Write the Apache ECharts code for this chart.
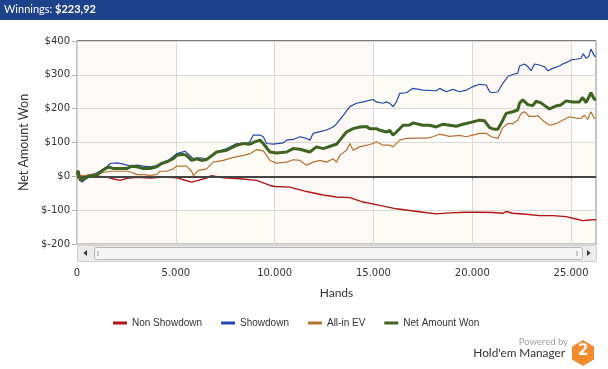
<!DOCTYPE html>
<html>
<head>
<meta charset="utf-8">
<script src="https://cdn.jsdelivr.net/npm/echarts@6/dist/echarts.min.js"></script>
<style>
html,body{margin:0;padding:0;background:#fff;}
#chart{width:608px;height:369px;}
</style>
</head>
<body>
<div id="chart"></div>
<script>
// ---- data ----
var xTicks = [0, 5000, 10000, 15000, 20000, 25000];
var yTicks = [-200, -100, 0, 100, 200, 300, 400];
var seriesNames = ['Non Showdown', 'Showdown', 'All-in EV', 'Net Amount Won'];

var nonShowdownHands = [0, 670, 1510, 1850, 2180, 2520, 3030, 3700, 4370, 5040, 5380, 5800, 6130, 6550, 6800, 7100, 7400, 8250, 9090, 9770, 10020, 10770, 11615, 12460, 13130, 13805, 14480, 15320, 16160, 16835, 17505, 18180, 18855, 19695, 20370, 21040, 21545, 21715, 22050, 22730, 23395, 24070, 24745, 25250, 25585, 25920, 26260];
var nonShowdownValues = [0, 1, -2, -8, -12, -6, -3, -5, -2, -4, -10, -17, -12, -5, 2, -1, -4, -7, -12, -27, -30, -32, -45, -55, -61, -63, -76, -86, -96, -101, -106, -111, -108, -106, -106, -107, -109, -104, -109, -112, -116, -116, -119, -126, -131, -129, -128];

var showdownHands = [0, 250, 500, 840, 1180, 1510, 1680, 2020, 2350, 2690, 3030, 3360, 3700, 4030, 4280, 4620, 5040, 5460, 5710, 5880, 6220, 6565, 7070, 7575, 8080, 8415, 8750, 8920, 9260, 9425, 9595, 9930, 10435, 10605, 10940, 11280, 11615, 11780, 11950, 12290, 12625, 12960, 13130, 13470, 13805, 14140, 14480, 14815, 14980, 15150, 15485, 15655, 15825, 15990, 16160, 16330, 16665, 17000, 17505, 18180, 18350, 18685, 19020, 19360, 19695, 20030, 20370, 20705, 20875, 21040, 21295, 21545, 21800, 22050, 22300, 22390, 22640, 22810, 22975, 23145, 23395, 23650, 23820, 24070, 24410, 24575, 24745, 24995, 25250, 25500, 25620, 25755, 25890, 26005, 26175, 26260];
var showdownValues = [5, -17, -4, 6, 16, 28, 38, 40, 36, 30, 33, 30, 28, 32, 40, 47, 67, 74, 62, 52, 55, 52, 72, 82, 97, 95, 102, 122, 122, 117, 97, 95, 99, 107, 109, 117, 112, 107, 127, 132, 137, 146, 155, 180, 206, 216, 220, 225, 227, 220, 216, 220, 216, 206, 220, 245, 247, 260, 255, 253, 260, 250, 257, 250, 255, 265, 272, 270, 250, 247, 250, 275, 295, 301, 305, 326, 332, 324, 312, 332, 329, 324, 312, 319, 326, 332, 336, 344, 346, 349, 362, 349, 354, 376, 356, 354];

var allInEvHands = [0, 340, 670, 1010, 1350, 1680, 2020, 2520, 2770, 3030, 3360, 3700, 4030, 4200, 4540, 4870, 5040, 5540, 5800, 5880, 6130, 6550, 6900, 7400, 7910, 8415, 8750, 9090, 9425, 9595, 9760, 10100, 10605, 10940, 11280, 11615, 11950, 12290, 12625, 12960, 13130, 13300, 13635, 13805, 13970, 14310, 14645, 14980, 15150, 15485, 15825, 15990, 16330, 16665, 17170, 17675, 18010, 18350, 18855, 19360, 19695, 20030, 20370, 20705, 20960, 21295, 21545, 21800, 22050, 22300, 22470, 22640, 22890, 23145, 23315, 23650, 23900, 24240, 24575, 24910, 25250, 25500, 25670, 25840, 26005, 26175, 26260];
var allInEvValues = [0, 2, 5, 8, 12, 15, 15, 15, 12, 5, 5, 3, 5, 15, 15, 22, 30, 30, 15, 2, 17, 22, 42, 47, 56, 62, 67, 79, 75, 62, 47, 39, 42, 49, 47, 33, 42, 47, 42, 52, 42, 62, 77, 97, 77, 87, 92, 97, 102, 92, 92, 87, 107, 112, 113, 113, 117, 125, 118, 121, 117, 122, 127, 127, 117, 112, 144, 156, 156, 166, 186, 191, 177, 177, 179, 161, 151, 156, 166, 176, 172, 171, 181, 168, 191, 171, 173];

var netWonHands = [0, 50, 170, 340, 500, 670, 1010, 1180, 1350, 1600, 1850, 2180, 2520, 2770, 3030, 3360, 3700, 4030, 4280, 4540, 4870, 5040, 5380, 5540, 5800, 6050, 6300, 6565, 7070, 7575, 8080, 8415, 8750, 8990, 9260, 9425, 9760, 10100, 10605, 10940, 11280, 11780, 12120, 12460, 12960, 13130, 13300, 13635, 13970, 14310, 14645, 14815, 15150, 15320, 15655, 15825, 15990, 16160, 16500, 16835, 17000, 17505, 17840, 18180, 18515, 18855, 19190, 19525, 19695, 20030, 20370, 20620, 20875, 21125, 21295, 21545, 21715, 22050, 22300, 22390, 22555, 22810, 23060, 23230, 23480, 23735, 23900, 24240, 24490, 24745, 25080, 25420, 25585, 25755, 26005, 26175, 26260];
var netWonValues = [5, 17, -12, -8, -3, 2, 4, 12, 20, 28, 23, 23, 23, 30, 28, 23, 23, 28, 38, 43, 52, 62, 65, 62, 47, 52, 47, 50, 72, 77, 92, 97, 95, 102, 107, 97, 72, 69, 72, 82, 80, 72, 87, 82, 92, 95, 107, 131, 141, 146, 147, 141, 141, 136, 131, 136, 122, 131, 151, 152, 158, 151, 151, 146, 154, 151, 148, 154, 156, 161, 166, 164, 144, 139, 139, 166, 186, 191, 196, 216, 226, 212, 209, 222, 217, 206, 199, 208, 211, 223, 220, 220, 233, 218, 247, 228, 226];

var winningsText = '$223,92';

function pairs(xs, ys) { return xs.map(function (x, i) { return [x, ys[i]]; }); }
function fmtThousands(v) { return String(Math.round(v)).replace(/\B(?=(\d{3})+(?!\d))/g, '.'); }

var colors = ['#b01414', '#2446ad', '#b8702e', '#3d6420'];
var xMax = 26260;

var chart = echarts.init(document.getElementById('chart'), null, {renderer: 'canvas'});

// background bands: pink columns on even 5000-blocks, cream/white horizontal stripes on odd blocks
var pinkAreas = [];
var creamAreas = [];
for (var b = 0; b < xTicks.length; b++) {
  var x0 = xTicks[b], x1 = Math.min(xTicks[b] + 5000, xMax);
  if (b % 2 === 0) {
    pinkAreas.push([{xAxis: x0}, {xAxis: x1}]);
  } else {
    for (var k = 0; k < yTicks.length - 1; k += 2) {
      creamAreas.push([{xAxis: x0, yAxis: yTicks[k]}, {xAxis: x1, yAxis: yTicks[k + 1]}]);
    }
  }
}

var option = {
  animation: false,
  backgroundColor: '#ffffff',
  grid: {left: 77, top: 41, right: 12, bottom: 125, show: true, borderColor: '#8a8a8a', borderWidth: 1, backgroundColor: 'transparent'},
  legend: {
    data: seriesNames,
    left: 108, top: 313,
    icon: 'rect', itemWidth: 14, itemHeight: 3, itemGap: 19,
    textStyle: {fontFamily: 'Liberation Sans', fontSize: 10, color: '#333'}
  },
  xAxis: {
    type: 'value', min: 0, max: xMax, interval: 5000, offset: 18,
    name: 'Hands', nameLocation: 'middle', nameGap: 25,
    nameTextStyle: {fontFamily: 'Lato', fontSize: 12, color: '#333'},
    axisLine: {show: true, lineStyle: {color: '#b0b0b0'}},
    axisTick: {show: true, length: 4, lineStyle: {color: '#b0b0b0'}, customValues: xTicks},
    axisLabel: {fontFamily: 'DejaVu Sans', fontSize: 10, color: '#333', margin: 6, customValues: xTicks, formatter: fmtThousands},
    splitLine: {show: true, lineStyle: {color: '#dadada'}}
  },
  yAxis: {
    type: 'value', min: -200, max: 400, interval: 100,
    name: 'Net Amount Won', nameLocation: 'middle', nameGap: 43, nameRotate: 90,
    nameTextStyle: {fontFamily: 'Lato', fontSize: 12.5, color: '#333'},
    axisLine: {show: false},
    axisTick: {show: true, length: 5, lineStyle: {color: '#b0b0b0'}},
    axisLabel: {fontFamily: 'DejaVu Sans', fontSize: 10, color: '#333', margin: 7, formatter: function (v) { return '$' + v; }},
    splitLine: {show: true, lineStyle: {color: '#dadada'}}
  },
  series: [
    {
      name: '_pink', type: 'line', data: [], silent: true, z: 1,
      markArea: {silent: true, itemStyle: {color: 'rgba(235,175,150,0.08)', opacity: 1}, data: pinkAreas}
    },
    {
      name: '_cream', type: 'line', data: [], silent: true, z: 1,
      markArea: {silent: true, itemStyle: {color: 'rgba(225,225,130,0.08)', opacity: 1}, data: creamAreas}
    },
    {
      name: seriesNames[0], type: 'line', data: pairs(nonShowdownHands, nonShowdownValues),
      showSymbol: false, symbol: 'none', color: colors[0], lineStyle: {width: 1.4, color: colors[0]}, z: 3,
      markLine: {silent: true, symbol: 'none', label: {show: false}, lineStyle: {color: '#454545', width: 2, type: 'solid'}, data: [{yAxis: 0}]}
    },
    {
      name: seriesNames[1], type: 'line', data: pairs(showdownHands, showdownValues),
      showSymbol: false, symbol: 'none', color: colors[1], lineStyle: {width: 1.2, color: colors[1]}, z: 4
    },
    {
      name: seriesNames[2], type: 'line', data: pairs(allInEvHands, allInEvValues),
      showSymbol: false, symbol: 'none', color: colors[2], lineStyle: {width: 1.2, color: colors[2]}, z: 5
    },
    {
      name: seriesNames[3], type: 'line', data: pairs(netWonHands, netWonValues),
      showSymbol: false, symbol: 'none', color: colors[3], lineStyle: {width: 3, color: colors[3]}, z: 6
    }
  ],
  graphic: [
    // title bar
    {type: 'rect', left: 0, top: 0, shape: {width: 608, height: 20}, style: {fill: '#1d418a'}, z: 10},
    {type: 'text', left: 4, top: 4, z: 11, style: {
      text: '{a|Winnings: }{b|' + winningsText + '}',
      rich: {
        a: {fill: '#ffffff', fontFamily: 'Lato', fontSize: 11},
        b: {fill: '#ffffff', fontFamily: 'Lato', fontSize: 11, fontWeight: 'bold'}
      }
    }},
    // plot top edge (darker)
    {type: 'rect', left: 77, top: 40, shape: {width: 519, height: 1}, style: {fill: '#7a7a7a'}, z: 10},
    // scrollbar
    {type: 'rect', left: 77, top: 245, shape: {width: 519, height: 16}, style: {fill: '#ececec', stroke: '#cfcfcf', lineWidth: 1}, z: 10},
    {type: 'rect', left: 94, top: 247, shape: {width: 488, height: 12, r: 2}, style: {fill: '#f5f5f5', stroke: '#b4b4b4', lineWidth: 1}, z: 11},
    {type: 'rect', left: 97, top: 251, shape: {width: 2, height: 5}, style: {fill: '#c8c8c8'}, z: 12},
    {type: 'rect', left: 576, top: 251, shape: {width: 2, height: 5}, style: {fill: '#c8c8c8'}, z: 12},
    {type: 'polygon', shape: {points: [[87, 250], [87, 256], [83.5, 253]]}, style: {fill: '#333'}, z: 12},
    {type: 'polygon', shape: {points: [[587, 250], [587, 256], [590.5, 253]]}, style: {fill: '#333'}, z: 12},
    // logo
    {type: 'text', right: 40, top: 337, z: 10, style: {text: 'Powered by', fill: '#a0a0a0', fontFamily: 'Lato', fontSize: 9.5}},
    {type: 'text', right: 43, top: 347, z: 10, style: {text: "Hold'em Manager", fill: '#333333', fontFamily: 'Lato', fontSize: 11.8}},
    {type: 'polygon', z: 10, shape: {points: [[583, 340], [594, 346.5], [594, 359.5], [583, 366], [572, 359.5], [572, 346.5]]}, style: {fill: '#f28a2e'}},
    {type: 'text', z: 11, left: 578, top: 344, style: {text: '2', fill: '#ffffff', fontFamily: 'DejaVu Sans', fontSize: 15, fontWeight: 'bold'}}
  ]
};
chart.setOption(option);
</script>
</body>
</html>
